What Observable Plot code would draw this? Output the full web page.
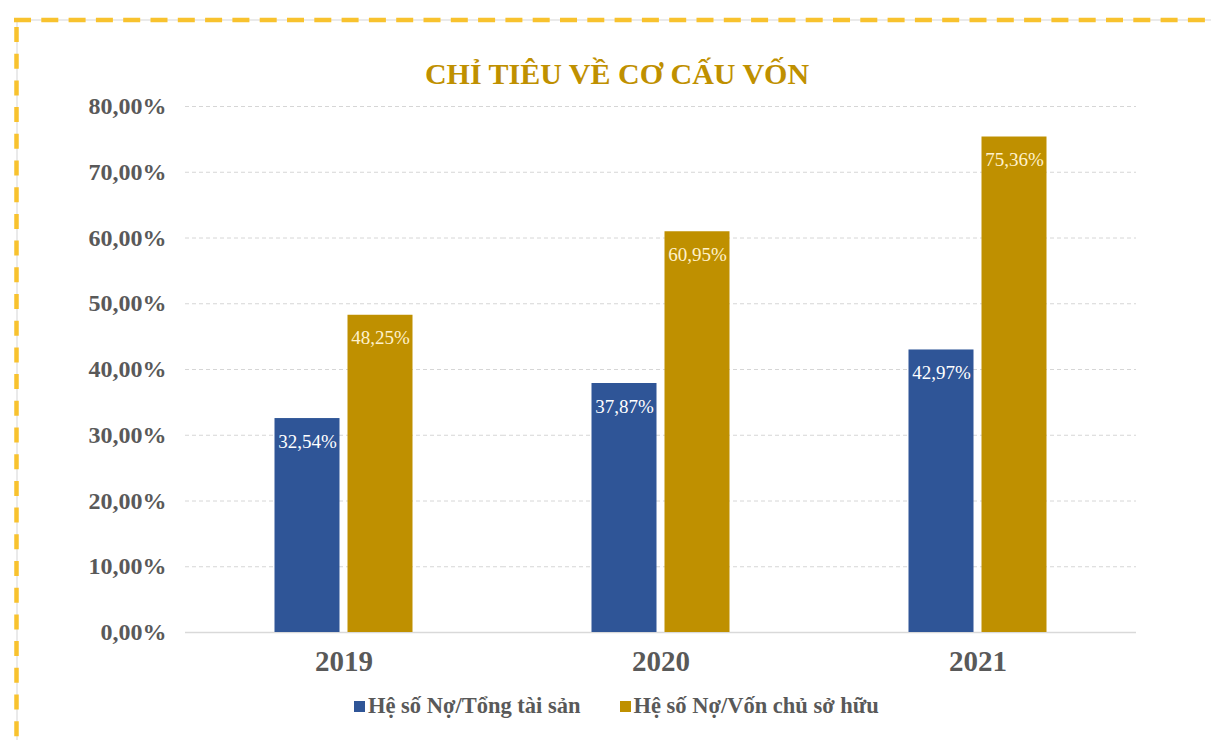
<!DOCTYPE html>
<html>
<head>
<meta charset="utf-8">
<script src="https://cdn.jsdelivr.net/npm/d3@7"></script>
<script src="https://cdn.jsdelivr.net/npm/@observablehq/plot@0.6"></script>
<style>
  html, body { margin: 0; padding: 0; background: #fff; }
  #wrap { position: relative; width: 1211px; height: 740px; overflow: hidden; background: #fff; }
  #border { position: absolute; left: 0; top: 0; }
  #title { position: absolute; left: 0; width: 1234px; top: 56px; text-align: center;
    font-family: "Liberation Serif", serif; font-weight: bold; font-size: 30px; color: #BF9000; line-height: 36px; }
  #chart { position: absolute; left: 0; top: 0; }
  #legend { position: absolute; left: 354px; top: 693px; display: flex; align-items: center;
    font-family: "Liberation Serif", serif; font-weight: bold; font-size: 22.5px; color: #595959; }
  .item { display: flex; align-items: center; margin-right: 39px; }
  .sw { width: 11px; height: 11px; margin-right: 3px; }
</style>
</head>
<body>
<div id="wrap">
  <svg id="border" width="1211" height="740">
    <line x1="17" y1="20" x2="1211" y2="20" stroke="#e3e3e3" stroke-width="1.5"/>
    <line x1="17" y1="20" x2="17" y2="740" stroke="#e3e3e3" stroke-width="1.5"/>
    <line x1="14" y1="20" x2="1211" y2="20" stroke="#F8C22E" stroke-width="4.5" stroke-dasharray="17,10.3"/>
    <line x1="16.5" y1="22" x2="16.5" y2="740" stroke="#F8C22E" stroke-width="4.5" stroke-dasharray="15,11.7" stroke-dashoffset="-5"/>
  </svg>
  <div id="chart"></div>
  <div id="title">CHỈ TIÊU VỀ CƠ CẤU VỐN</div>
  <div id="legend"></div>
</div>
<script>
const years = ["2019", "2020", "2021"];
const seriesNames = ["Hệ số Nợ/Tổng tài sản", "Hệ số Nợ/Vốn chủ sở hữu"];
const debtToAssets = [32.54, 37.87, 42.97];
const debtToEquity = [48.25, 60.95, 75.36];
const yTicks = [0, 10, 20, 30, 40, 50, 60, 70, 80];
const colors = ["#2F5597", "#BF9000"];
const labelColors = ["#ffffff", "#FFF2CC"];

const data = [];
years.forEach((yr, i) => {
  data.push({year: yr, series: seriesNames[0], value: debtToAssets[i]});
  data.push({year: yr, series: seriesNames[1], value: debtToEquity[i]});
});

const fmt = v => v.toFixed(2).replace(".", ",") + "%";

const plot = Plot.plot({
  width: 1211,
  height: 680,
  marginTop: 106,
  marginBottom: 48,
  marginLeft: 184.5,
  marginRight: 75.5,
  style: {background: "transparent", fontFamily: "'Liberation Serif', serif"},
  fx: {domain: years, paddingInner: 0, paddingOuter: 0, label: null, axis: null},
  x: {domain: seriesNames, paddingInner: 0.108, paddingOuter: 1.196, axis: null},
  y: {domain: [0, 80], axis: null},
  color: {domain: seriesNames, range: colors},
  marks: [
    Plot.gridY(yTicks.filter(d => d > 0), {stroke: "#d6d6d6", strokeOpacity: 1, strokeDasharray: "4,3", strokeWidth: 1}),
    Plot.ruleY([0], {stroke: "#d9d9d9", strokeWidth: 1.5}),
    Plot.barY(data, {fx: "year", x: "series", y: "value", fill: "series"}),
    Plot.text(data, {fx: "year", x: "series", y: "value", text: d => fmt(d.value), dy: 23,
      fill: d => labelColors[seriesNames.indexOf(d.series)], fontSize: 19, fontFamily: "'Liberation Serif', serif"}),
    Plot.axisY(yTicks, {tickSize: 0, tickPadding: 19, tickFormat: fmt, fontSize: 24, fontWeight: "bold", fill: "#595959", label: null}),
    Plot.axisFx({anchor: "bottom", tickSize: 0, tickPadding: 18, fontSize: 29, fontWeight: "bold", fill: "#595959", label: null})
  ]
});
document.getElementById("chart").appendChild(plot);

const legend = document.getElementById("legend");
seriesNames.forEach((s, i) => {
  const it = document.createElement("div");
  it.className = "item";
  const sw = document.createElement("div");
  sw.className = "sw";
  sw.style.background = colors[i];
  const t = document.createElement("span");
  t.textContent = s;
  it.appendChild(sw); it.appendChild(t);
  legend.appendChild(it);
});
</script>
</body>
</html>
